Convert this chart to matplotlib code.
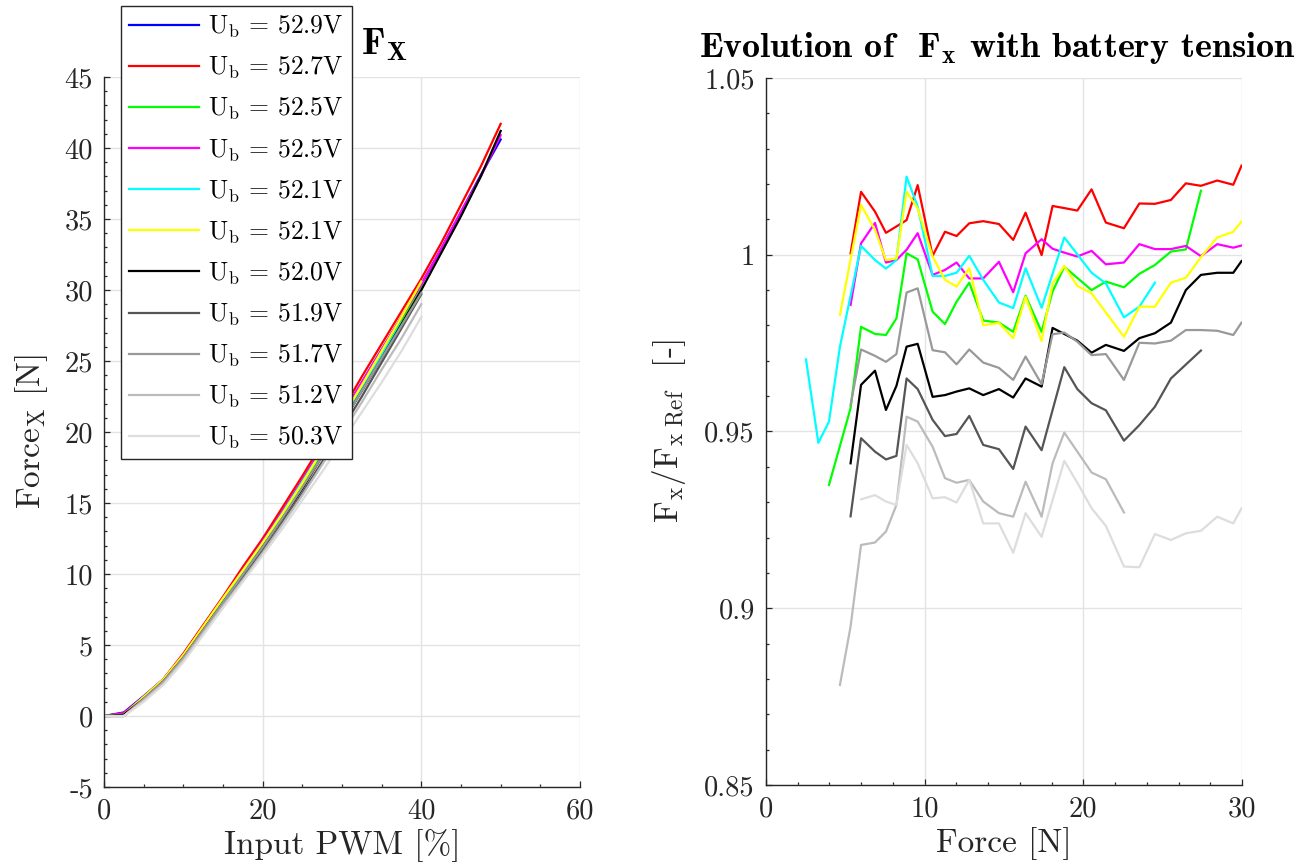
import numpy as np
import matplotlib
matplotlib.use("Agg")
import matplotlib.pyplot as plt
from matplotlib.ticker import MultipleLocator, FuncFormatter

plt.rcParams['font.family'] = ['cmr10', 'DejaVu Sans']
plt.rcParams['mathtext.fontset'] = 'cm'
plt.rcParams['axes.unicode_minus'] = False
plt.rcParams['axes.formatter.use_mathtext'] = False

# ---------------- data ----------------
labels = ["52.9", "52.7", "52.5", "52.5", "52.1", "52.1", "52.0", "51.9", "51.7", "51.2", "50.3"]
colors = ["#0000ff", "#ff0000", "#00ff00", "#ff00ff", "#00ffff", "#ffff00",
          "#000000", "#555555", "#999999", "#bbbbbb", "#dddddd"]

# Left plot: force vs PWM
pwm = [0, 2.5, 5, 7.5, 10, 12.5, 15, 17.5, 20, 22.5, 25, 27.5, 30, 32.5, 35, 37.5, 40, 42.5, 45, 47.5, 50]
f_529 = [0, 0.25, 1.4, 2.6, 4.3, 6.3, 8.3, 10.3, 12.3, 14.4, 16.6, 18.9, 21.2, 23.5, 25.8, 28.1, 30.4, 32.9, 35.5, 38.1, 40.6]
f_527 = [0, 0.2, 1.3, 2.6, 4.4, 6.4, 8.4, 10.5, 12.5, 14.7, 16.9, 19.2, 21.5, 23.9, 26.2, 28.5, 30.8, 33.3, 36.0, 38.7, 41.7]
f_525a = [0, 0.05, 1.3, 2.5, 4.2, 6.2, 8.2, 10.1, 12.05, 14.15, 16.3, 18.55, 20.8, 23.1, 25.5, 27.9, 30.3]
f_525b = [0, 0.2, 1.35, 2.6, 4.3, 6.3, 8.3, 10.3, 12.3, 14.4, 16.6, 18.9, 21.2, 23.5, 25.8, 28.1, 30.4, 32.9, 35.5, 38.0, 40.9]
f_521a = [0, 0.05, 1.25, 2.5, 4.25, 6.25, 8.25, 10.2, 12.2, 14.3, 16.5, 18.7, 20.9, 23.1, 25.4, 27.7]
f_521b = [0, 0.1, 1.35, 2.6, 4.3, 6.3, 8.3, 10.25, 12.2, 14.25, 16.4, 18.7, 21.0, 23.3, 25.7, 28.1, 30.6]
f_520 = [0, 0.1, 1.2, 2.45, 4.1, 6.05, 8.0, 9.9, 11.9, 13.9, 16.0, 18.3, 20.6, 22.9, 25.2, 27.6, 30.0, 32.6, 35.2, 38.0, 41.2]
f_519 = [0, 0, 1.15, 2.35, 3.95, 5.9, 7.8, 9.7, 11.65, 13.65, 15.7, 17.9, 20.2, 22.5, 24.9, 27.3, 29.7]
f_517 = [0, 0, 1.2, 2.45, 4.1, 6.05, 8.0, 9.95, 11.9, 13.95, 16.1, 18.3, 20.6, 22.9, 25.2, 27.5, 29.8]
f_512 = [0, 0, 1.1, 2.3, 3.95, 5.85, 7.75, 9.6, 11.5, 13.5, 15.55, 17.7, 19.9, 22.1, 24.4, 26.6, 29.0]
f_503 = [0, 0, 1.0, 2.2, 3.8, 5.7, 7.6, 9.45, 11.3, 13.2, 15.2, 17.2, 19.3, 21.4, 23.5, 25.7, 28.1]
left_series = [f_529, f_527, f_525a, f_525b, f_521a, f_521b, f_520, f_519, f_517, f_512, f_503]

# Right plot: F / F_ref vs force
r527_x = [5.33, 5.99, 6.87, 7.56, 8.22, 8.86, 9.56, 10.50, 11.28, 12.01, 12.81, 13.69, 14.68, 15.58, 16.36, 17.37, 18.06, 18.80, 19.62, 20.52, 21.42, 22.56, 23.53, 24.51, 25.52, 26.46, 27.41, 28.44, 29.45, 29.97]
r527_y = [1.0004, 1.0178, 1.0122, 1.0062, 1.0080, 1.0098, 1.0197, 0.9997, 1.0065, 1.0053, 1.0089, 1.0095, 1.0087, 1.0042, 1.0119, 0.9999, 1.0138, 1.0132, 1.0125, 1.0185, 1.0091, 1.0075, 1.0145, 1.0144, 1.0155, 1.0202, 1.0195, 1.0210, 1.0198, 1.0252]

r525a_x = [3.97, 5.33, 5.99, 6.87, 7.56, 8.22, 8.86, 9.56, 10.50, 11.28, 12.01, 12.81, 13.69, 14.68, 15.58, 16.36, 17.37, 18.06, 18.80, 20.52, 21.42, 22.56, 23.53, 24.51, 25.52, 26.46, 27.41]
r525a_y = [0.9349, 0.9566, 0.9796, 0.9776, 0.9773, 0.9820, 1.0004, 0.9987, 0.9839, 0.9804, 0.9867, 0.9921, 0.9814, 0.9808, 0.9782, 0.9884, 0.9782, 0.9896, 0.9966, 0.9900, 0.9924, 0.9908, 0.9946, 0.9971, 1.0009, 1.0015, 1.0181]

r525b_x = [5.33, 5.99, 6.87, 7.56, 8.22, 8.86, 9.56, 10.50, 11.28, 12.01, 12.81, 13.69, 14.68, 15.58, 16.36, 17.37, 18.06, 18.80, 19.62, 20.52, 21.42, 22.56, 23.53, 24.51, 25.52, 26.46, 27.41, 28.44, 29.45, 29.97]
r525b_y = [0.9858, 1.0032, 1.0090, 0.9978, 0.9985, 1.0014, 1.0061, 0.9943, 0.9957, 0.9978, 0.9933, 0.9933, 0.9980, 0.9894, 1.0004, 1.0044, 1.0017, 1.0006, 0.9995, 1.0011, 0.9973, 0.9978, 1.0030, 1.0016, 1.0016, 1.0025, 0.9996, 1.0030, 1.0020, 1.0026]

r521a_x = [2.52, 3.30, 3.97, 4.66, 5.99, 6.87, 7.56, 8.22, 8.86, 9.56, 10.50, 11.28, 12.01, 12.81, 13.69, 14.68, 15.58, 16.36, 17.37, 18.80, 20.52, 21.42, 22.56, 23.53, 24.51]
r521a_y = [0.9704, 0.9468, 0.9528, 0.9740, 1.0025, 0.9985, 0.9961, 0.9985, 1.0221, 1.0136, 0.9940, 0.9940, 0.9949, 0.9997, 0.9929, 0.9865, 0.9849, 0.9962, 0.9850, 1.0049, 0.9949, 0.9919, 0.9823, 0.9853, 0.9921]

r521b_x = [4.66, 5.99, 6.87, 7.56, 8.22, 8.86, 9.56, 10.50, 11.28, 12.01, 12.81, 13.69, 14.68, 15.58, 16.36, 17.37, 18.06, 18.80, 19.62, 20.52, 22.56, 23.53, 24.51, 25.52, 26.46, 27.41, 28.44, 29.45, 29.97]
r521b_y = [0.9830, 1.0141, 1.0070, 0.9985, 0.9990, 1.0178, 1.0131, 0.9995, 0.9929, 0.9910, 0.9962, 0.9801, 0.9807, 0.9764, 0.9881, 0.9756, 0.9919, 0.9968, 0.9912, 0.9891, 0.9768, 0.9853, 0.9853, 0.9921, 0.9935, 0.9993, 1.0049, 1.0065, 1.0094]

r520_x = [5.33, 5.99, 6.87, 7.56, 8.22, 8.86, 9.56, 10.50, 11.28, 12.01, 12.81, 13.69, 14.68, 15.58, 16.36, 17.37, 18.06, 19.62, 20.52, 21.42, 22.56, 23.53, 24.51, 25.52, 26.46, 27.41, 28.44, 29.45, 29.97]
r520_y = [0.9410, 0.9632, 0.9672, 0.9561, 0.9629, 0.9740, 0.9748, 0.9598, 0.9603, 0.9613, 0.9622, 0.9603, 0.9620, 0.9596, 0.9650, 0.9627, 0.9793, 0.9757, 0.9723, 0.9745, 0.9728, 0.9764, 0.9778, 0.9808, 0.9900, 0.9943, 0.9949, 0.9949, 0.9982]

r519_x = [5.33, 5.99, 6.87, 7.56, 8.22, 8.86, 9.56, 10.50, 11.28, 12.01, 12.81, 13.69, 14.68, 15.58, 16.36, 17.37, 18.80, 19.62, 20.52, 21.42, 22.56, 23.53, 24.51, 25.52, 27.41]
r519_y = [0.9260, 0.9481, 0.9443, 0.9421, 0.9431, 0.9650, 0.9620, 0.9533, 0.9487, 0.9493, 0.9544, 0.9462, 0.9450, 0.9394, 0.9514, 0.9447, 0.9682, 0.9620, 0.9580, 0.9560, 0.9474, 0.9518, 0.9570, 0.9650, 0.9729]

r517_x = [5.33, 5.99, 6.87, 7.56, 8.22, 8.86, 9.56, 10.50, 11.28, 12.01, 12.81, 13.69, 14.68, 15.58, 16.36, 17.37, 18.06, 18.80, 19.62, 20.52, 21.42, 22.56, 23.53, 24.51, 25.52, 26.46, 27.41, 28.44, 29.45, 29.97]
r517_y = [0.9575, 0.9732, 0.9714, 0.9697, 0.9719, 0.9893, 0.9905, 0.9730, 0.9724, 0.9690, 0.9732, 0.9695, 0.9680, 0.9646, 0.9712, 0.9634, 0.9775, 0.9780, 0.9754, 0.9716, 0.9719, 0.9646, 0.9751, 0.9749, 0.9757, 0.9787, 0.9787, 0.9785, 0.9773, 0.9808]

r512_x = [4.66, 5.33, 5.99, 6.87, 7.56, 8.22, 8.86, 9.56, 10.50, 11.28, 12.01, 12.81, 13.69, 14.68, 15.58, 16.36, 17.37, 18.06, 18.80, 20.52, 21.42, 22.56]
r512_y = [0.8783, 0.8948, 0.9179, 0.9186, 0.9217, 0.9292, 0.9542, 0.9528, 0.9457, 0.9368, 0.9355, 0.9363, 0.9302, 0.9269, 0.9259, 0.9358, 0.9259, 0.9410, 0.9497, 0.9384, 0.9365, 0.9271]

r503_x = [5.99, 6.87, 7.56, 8.22, 8.86, 9.56, 10.50, 11.28, 12.01, 12.81, 13.69, 14.68, 15.58, 16.36, 17.37, 18.80, 19.62, 20.52, 21.42, 22.56, 23.53, 24.51, 25.52, 26.46, 27.41, 28.44, 29.45, 29.97]
r503_y = [0.9308, 0.9320, 0.9302, 0.9292, 0.9462, 0.9410, 0.9311, 0.9314, 0.9299, 0.9363, 0.9240, 0.9240, 0.9157, 0.9269, 0.9202, 0.9417, 0.9355, 0.9283, 0.9233, 0.9118, 0.9116, 0.9210, 0.9193, 0.9212, 0.9219, 0.9259, 0.9240, 0.9283]

right_series = [(r527_x, r527_y, 1), (r525a_x, r525a_y, 2), (r525b_x, r525b_y, 3),
                (r521a_x, r521a_y, 4), (r521b_x, r521b_y, 5), (r520_x, r520_y, 6),
                (r519_x, r519_y, 7), (r517_x, r517_y, 8), (r512_x, r512_y, 9), (r503_x, r503_y, 10)]

# ---------------- figure ----------------
W, H = 1315, 867
fig = plt.figure(figsize=(W / 100, H / 100), dpi=100)
ax1 = fig.add_axes([104 / W, 1 - 787 / H, 476 / W, 710 / H])
ax2 = fig.add_axes([766 / W, 1 - 785 / H, 476 / W, 707 / H])

spine_c = '#262626'
grid_c = '#e3e3e3'
FS = 20.5
LFS = 24

def style(ax):
    for s in ('top', 'right'):
        ax.spines[s].set_visible(False)
    for s in ('left', 'bottom'):
        ax.spines[s].set_color(spine_c)
        ax.spines[s].set_linewidth(1.0)
        ax.spines[s].set_zorder(5)
    ax.grid(True, which='major', color=grid_c, linewidth=1.0, zorder=0)
    ax.set_axisbelow(True)
    ax.tick_params(which='both', direction='in', colors=spine_c, labelsize=FS, pad=8, width=0.9)
    ax.tick_params(which='major', length=4.5)
    ax.tick_params(which='minor', length=2.5)
    ax.tick_params(labelcolor='#262626')

fmt = FuncFormatter(lambda v, p: '%g' % round(v, 6))

# Left
for f, c, lab in zip(left_series, colors, labels):
    ax1.plot(pwm[:len(f)], f, color=c, lw=1.6, label=r'$\mathrm{U_b}$ = ' + lab + 'V')
ax1.set_xlim(0, 60)
ax1.set_ylim(-5, 45)
ax1.xaxis.set_major_locator(MultipleLocator(20))
ax1.xaxis.set_minor_locator(MultipleLocator(5))
ax1.yaxis.set_major_locator(MultipleLocator(5))
ax1.yaxis.set_minor_locator(MultipleLocator(1))
ax1.xaxis.set_major_formatter(fmt)
ax1.yaxis.set_major_formatter(fmt)
style(ax1)
ax1.set_xlabel('Input PWM [%]', fontsize=LFS, color='#262626', labelpad=3)
ax1.set_ylabel(r'Force$_\mathrm{X}$ [N]', fontsize=LFS, color='#262626', labelpad=10)

leg = ax1.legend(loc='upper left', bbox_to_anchor=(121 / W, 1 - 6 / H), bbox_transform=fig.transFigure,
                 borderaxespad=0, fontsize=18.5, handlelength=2.75, handletextpad=0.35,
                 labelspacing=0.57, borderpad=0.3, fancybox=False, framealpha=1)
leg.get_frame().set_edgecolor(spine_c)
leg.get_frame().set_linewidth(1.0)
leg.set_zorder(10)

fig.text(361 / W, 1 - 54 / H, r'$\mathbf{F_X}$', fontsize=27, color='black', ha='left', va='baseline')

# Right
for xs, ys, idx in right_series:
    ax2.plot(xs, ys, color=colors[idx], lw=1.6)
ax2.set_xlim(0, 30)
ax2.set_ylim(0.85, 1.05)
ax2.xaxis.set_major_locator(MultipleLocator(10))
ax2.xaxis.set_minor_locator(MultipleLocator(2))
ax2.yaxis.set_major_locator(MultipleLocator(0.05))
ax2.yaxis.set_minor_locator(MultipleLocator(0.01))
ax2.xaxis.set_major_formatter(fmt)
ax2.yaxis.set_major_formatter(fmt)
style(ax2)
ax2.set_xlabel('Force [N]', fontsize=LFS, color='#262626', labelpad=3)
ax2.set_ylabel(r'$\mathrm{F_x/F_{x\ Ref}}$  [-]', fontsize=LFS, color='#262626', labelpad=12)

fig.text(997 / W, 1 - 57 / H, r'Evolution of  $\mathbf{F_x}$ with battery tension',
         fontsize=26, family='cmb10', color='black', ha='center', va='baseline')

fig.savefig('out.png', dpi=100)
